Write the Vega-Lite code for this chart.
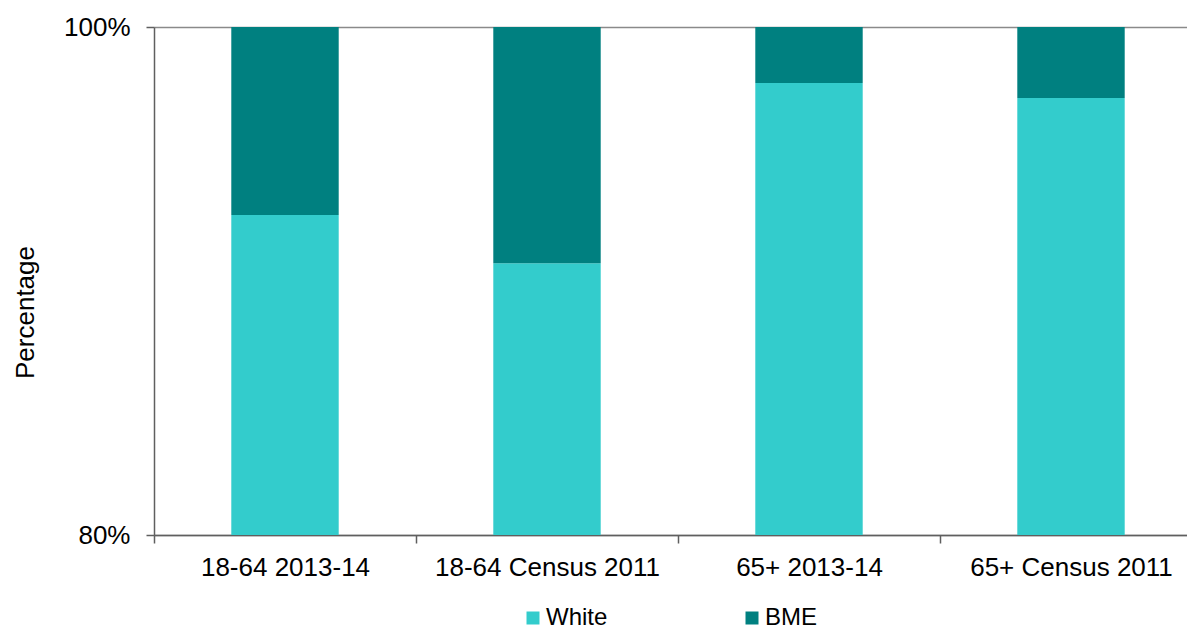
{
  "$schema": "https://vega.github.io/schema/vega-lite/v6.json",
  "width": 1033,
  "height": 508,
  "autosize": "none",
  "padding": {"left": 154, "top": 27, "right": 0, "bottom": 95},
  "background": "white",
  "config": {
    "view": {"stroke": null},
    "font": "Liberation Sans",
    "axis": {"labelFont": "Liberation Sans", "titleFont": "Liberation Sans", "labelColor": "#000000", "titleColor": "#000000"}
  },
  "data": {
    "values": [
      {"group": "18-64 2013-14", "ethnicity": "White", "share": 0.926},
      {"group": "18-64 2013-14", "ethnicity": "BME", "share": 0.074},
      {"group": "18-64 Census 2011", "ethnicity": "White", "share": 0.907},
      {"group": "18-64 Census 2011", "ethnicity": "BME", "share": 0.093},
      {"group": "65+ 2013-14", "ethnicity": "White", "share": 0.978},
      {"group": "65+ 2013-14", "ethnicity": "BME", "share": 0.022},
      {"group": "65+ Census 2011", "ethnicity": "White", "share": 0.972},
      {"group": "65+ Census 2011", "ethnicity": "BME", "share": 0.028}
    ]
  },
  "mark": {"type": "bar", "clip": true},
  "encoding": {
    "x": {
      "field": "group",
      "type": "nominal",
      "sort": null,
      "scale": {"range": [0, 1048], "paddingInner": 0.59, "paddingOuter": 0.295},
      "axis": {
        "title": null,
        "labelAngle": 0,
        "labelFontSize": 26,
        "labelBaseline": "alphabetic",
        "labelPadding": 32,
        "labelOffset": 131,
        "labelLimit": 0,
        "tickSize": 8,
        "tickOffset": -131,
        "tickColor": "#5f5f5f",
        "tickWidth": 1.5,
        "domainColor": "#5f5f5f",
        "domainWidth": 1.5,
        "grid": false
      }
    },
    "y": {
      "field": "share",
      "type": "quantitative",
      "stack": "zero",
      "scale": {"domain": [0.8, 1.0], "nice": false, "zero": false},
      "axis": {
        "title": "Percentage",
        "titleFontSize": 26,
        "titleFontWeight": "normal",
        "titleAngle": -90,
        "titleX": -121,
        "titleY": 285,
        "titleAlign": "center",
        "titleBaseline": "alphabetic",
        "values": [0.8, 1.0],
        "format": ".0%",
        "labelFontSize": 26,
        "labelPadding": 16,
        "tickSize": 8,
        "tickColor": "#5f5f5f",
        "tickWidth": 1.5,
        "domainColor": "#5f5f5f",
        "domainWidth": 1.5,
        "grid": true,
        "gridColor": "#8a8a8a",
        "gridWidth": 1.5
      }
    },
    "color": {
      "field": "ethnicity",
      "type": "nominal",
      "sort": ["White", "BME"],
      "scale": {"domain": ["White", "BME"], "range": ["#33CCCC", "#008080"]},
      "legend": {
        "title": null,
        "orient": "none",
        "direction": "horizontal",
        "columns": 2,
        "legendX": 367,
        "legendY": 579,
        "padding": 0,
        "symbolType": "square",
        "symbolSize": 169,
        "symbolStrokeWidth": 0,
        "symbolOpacity": 1,
        "labelFontSize": 24,
        "labelFont": "Liberation Sans",
        "labelColor": "#000000",
        "labelOffset": 1,
        "columnPadding": 132
      }
    },
    "order": {"field": "ethnicity", "sort": "descending"}
  }
}
